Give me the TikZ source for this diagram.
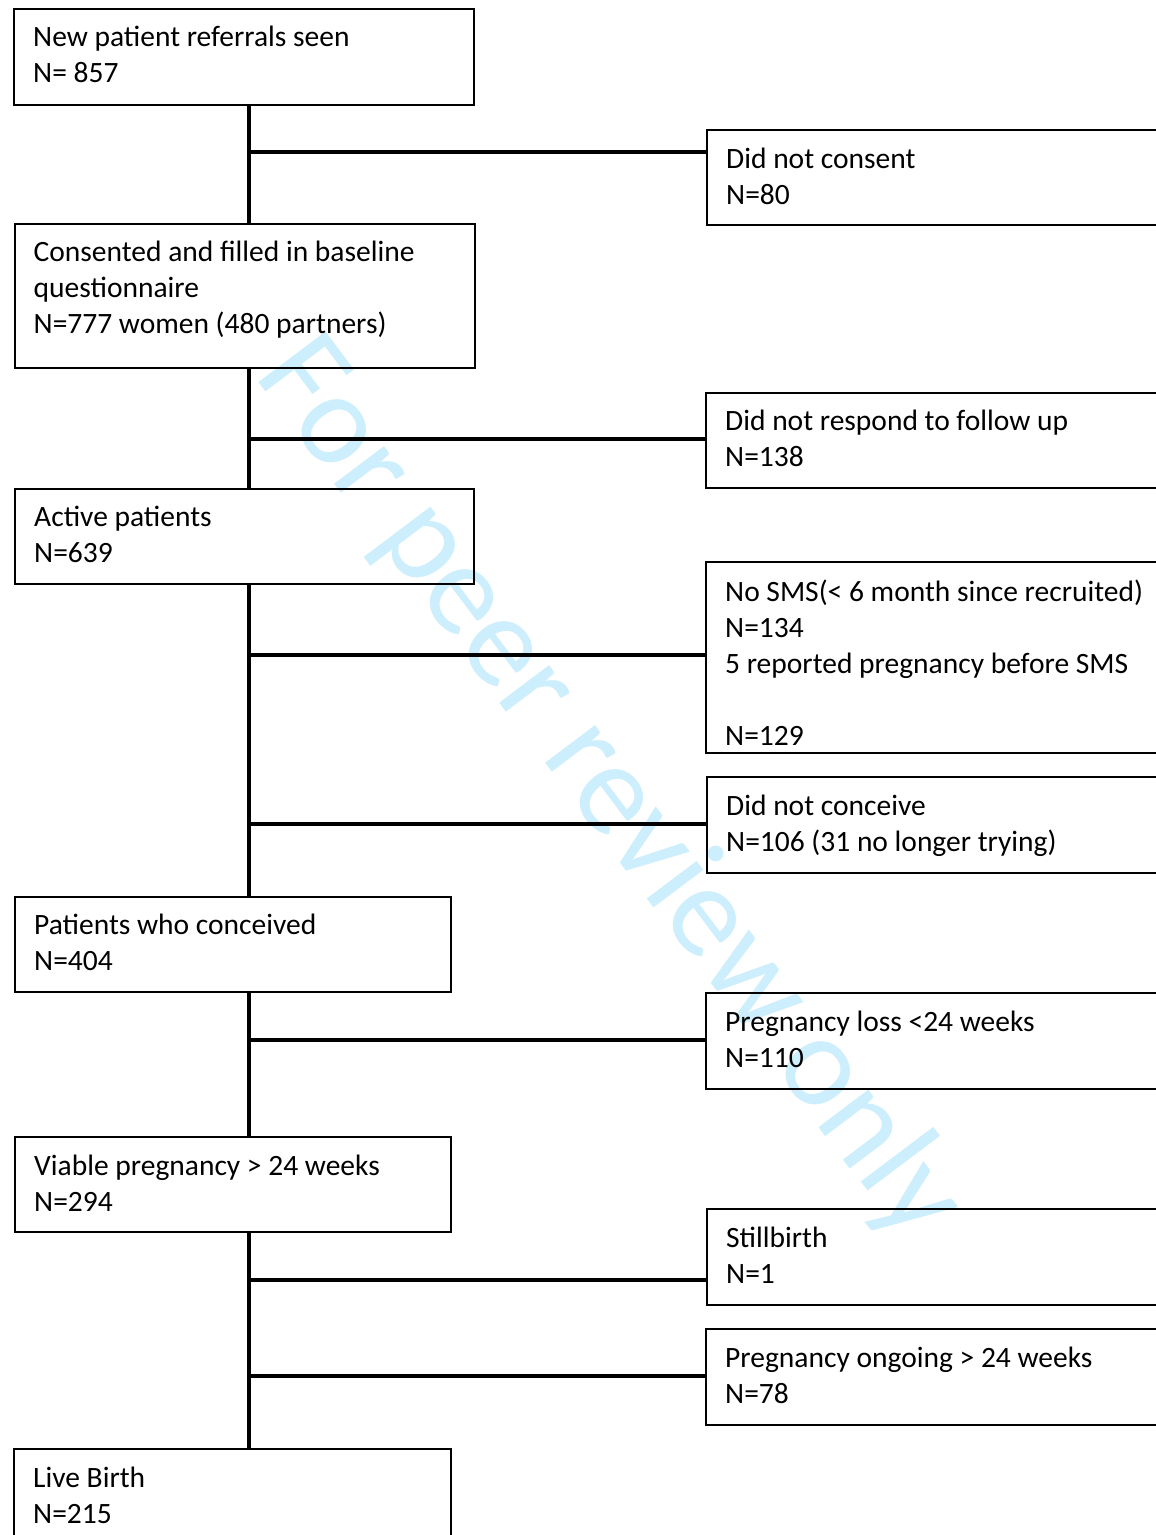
\documentclass[tikz,border=0pt]{standalone}
\usepackage{fontspec}
\setmainfont{Carlito}
\definecolor{wmcol}{RGB}{205,238,252}
\begin{document}
\begin{tikzpicture}[x=1pt,y=-1pt,
  box/.style={draw, line width=1.6pt, inner sep=0pt, anchor=north west},
  txt/.style={anchor=north west, align=left, inner sep=0pt, font=\fontsize{29.5}{36}\selectfont, execute at begin node={\rule{0pt}{25pt}}},
  link/.style={line width=3.6pt}]
\useasboundingbox (0,0) rectangle (1156,1535);
\clip (0,0) rectangle (1156,1535);
% watermark
\node[rotate=-53, text=wmcol, inner sep=0pt, font=\fontsize{131}{131}\selectfont] (wm) at (609,790) {For peer review only};
% left boxes
\node[box, minimum width=460pt, minimum height=96pt] (b1) at (13,8) {};
\node[box, minimum width=460pt, minimum height=144pt] (b3) at (14,223) {};
\node[box, minimum width=459pt, minimum height=95pt] (b5) at (14,488) {};
\node[box, minimum width=436pt, minimum height=95pt] (b8) at (14,896) {};
\node[box, minimum width=436pt, minimum height=95pt] (b10) at (14,1136) {};
\node[box, minimum width=437pt, minimum height=120pt] (b13) at (13,1448) {};
% right boxes
\node[box, minimum width=480pt, minimum height=95pt] (r2) at (706,129) {};
\node[box, minimum width=480pt, minimum height=95pt] (r4) at (705,392) {};
\node[box, minimum width=480pt, minimum height=191pt] (r6) at (705,561) {};
\node[box, minimum width=480pt, minimum height=96pt] (r7) at (706,776) {};
\node[box, minimum width=480pt, minimum height=96pt] (r9) at (705,992) {};
\node[box, minimum width=480pt, minimum height=96pt] (r11) at (706,1208) {};
\node[box, minimum width=480pt, minimum height=96pt] (r12) at (705,1328) {};
% texts
\node[txt] (t1) at ([shift={(20,18)}]b1.north west) {New patient referrals seen\\N= 857};
\node[txt] (t3) at ([shift={(19.5,17.5)}]b3.north west) {Consented and filled in baseline\\questionnaire\\N=777 women (480 partners)};
\node[txt] (t5) at ([shift={(20,18)}]b5.north west) {Active patients\\N=639};
\node[txt] (t8) at ([shift={(20,18)}]b8.north west) {Patients who conceived\\N=404};
\node[txt] (t10) at ([shift={(20,18.5)}]b10.north west) {Viable pregnancy {>} 24 weeks\\N=294};
\node[txt] (t13) at ([shift={(20,18.5)}]b13.north west) {Live Birth\\N=215};
\node[txt] (t2) at ([shift={(20,18.5)}]r2.north west) {Did not consent\\N=80};
\node[txt] (t4) at ([shift={(20,18)}]r4.north west) {Did not respond to follow up\\N=138};
\node[txt] (t6) at ([shift={(20,18.5)}]r6.north west) {No SMS(< 6 month since recruited)\\N=134\\5 reported pregnancy before SMS\\[36pt]N=129};
\node[txt] (t7) at ([shift={(20,18.5)}]r7.north west) {Did not conceive\\N=106 (31 no longer trying)};
\node[txt] (t9) at ([shift={(20,18.5)}]r9.north west) {Pregnancy loss <24 weeks\\N=110};
\node[txt] (t11) at ([shift={(20,18.5)}]r11.north west) {Stillbirth\\N=1};
\node[txt] (t12) at ([shift={(20,18.5)}]r12.north west) {Pregnancy ongoing > 24 weeks\\N=78};
% trunk
\coordinate (t) at (249,0);
\draw[link] (b1.south -| t) -- (b3.north -| t);
\draw[link] (b3.south -| t) -- (b5.north -| t);
\draw[link] (b5.south -| t) -- (b8.north -| t);
\draw[link] (b8.south -| t) -- (b10.north -| t);
\draw[link] (b10.south -| t) -- (b13.north -| t);
% branches
\coordinate (j2) at (249,152);
\coordinate (j4) at (249,439);
\coordinate (j6) at (249,655);
\coordinate (j7) at (249,824);
\coordinate (j9) at (249,1040);
\coordinate (j11) at (249,1280);
\coordinate (j12) at (249,1376);
\draw[link] (j2) -- (j2 -| r2.west);
\draw[link] (j4) -- (j4 -| r4.west);
\draw[link] (j6) -- (j6 -| r6.west);
\draw[link] (j7) -- (j7 -| r7.west);
\draw[link] (j9) -- (j9 -| r9.west);
\draw[link] (j11) -- (j11 -| r11.west);
\draw[link] (j12) -- (j12 -| r12.west);
\end{tikzpicture}
\end{document}
